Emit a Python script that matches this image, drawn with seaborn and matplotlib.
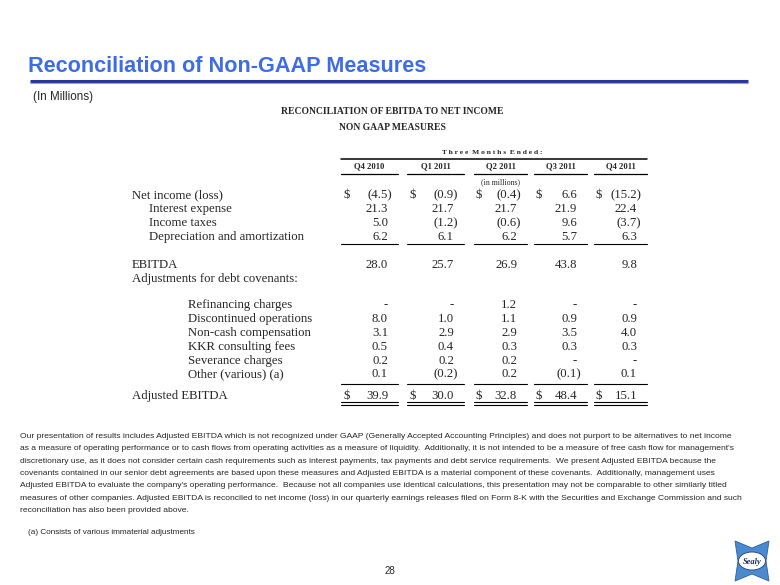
import numpy as np
import pandas as pd
import seaborn as sns
import matplotlib.pyplot as plt
from matplotlib import font_manager
from matplotlib.patches import Polygon, Ellipse

# Data: quarterly reconciliation (in millions), None = "-"
quarters = ['Q4 2010', 'Q1 2011', 'Q2 2011', 'Q3 2011', 'Q4 2011']
net_income = [-4.5, -0.9, -0.4, 6.6, -15.2]
interest_expense = [21.3, 21.7, 21.7, 21.9, 22.4]
income_taxes = [5.0, -1.2, -0.6, 9.6, -3.7]
depreciation = [6.2, 6.1, 6.2, 5.7, 6.3]
ebitda = [28.0, 25.7, 26.9, 43.8, 9.8]
refinancing = [None, None, 1.2, None, None]
discontinued = [8.0, 1.0, 1.1, 0.9, 0.9]
non_cash_comp = [3.1, 2.9, 2.9, 3.5, 4.0]
kkr_fees = [0.5, 0.4, 0.3, 0.3, 0.3]
severance = [0.2, 0.2, 0.2, None, None]
other = [0.1, -0.2, 0.2, -0.1, 0.1]
adjusted_ebitda = [39.9, 30.0, 32.8, 48.4, 15.1]

row_labels = ['Net income (loss)', 'Interest expense', 'Income taxes',
              'Depreciation and amortization', 'EBITDA',
              'Adjustments for debt covenants:', 'Refinancing charges',
              'Discontinued operations', 'Non-cash compensation',
              'KKR consulting fees', 'Severance charges', 'Other (various) (a)',
              'Adjusted EBITDA']
row_values = [net_income, interest_expense, income_taxes, depreciation, ebitda,
              None, refinancing, discontinued, non_cash_comp, kkr_fees,
              severance, other, adjusted_ebitda]

table = pd.DataFrame({'label': row_labels, 'values': row_values})
table['y'] = [194, 208, 222, 236, 264, 278, 304, 318, 332, 346, 360, 373, 395]
table['x'] = [132, 149, 149, 149, 132, 132, 188, 188, 188, 188, 188, 188, 132]
table['dollar'] = [True] + [False] * 11 + [True]

notes = ("Our presentation of results includes Adjusted EBITDA which is not recognized under GAAP (Generally Accepted Accounting Principles) and does not purport to be alternatives to net income\n"
         "as a measure of operating performance or to cash flows from operating activities as a measure of liquidity.  Additionally, it is not intended to be a measure of free cash flow for management's\n"
         "discretionary use, as it does not consider certain cash requirements such as interest payments, tax payments and debt service requirements.  We present Adjusted EBITDA because the\n"
         "covenants contained in our senior debt agreements are based upon these measures and Adjusted EBITDA is a material component of these covenants.  Additionally, management uses\n"
         "Adjusted EBITDA to evaluate the company's operating performance.  Because not all companies use identical calculations, this presentation may not be comparable to other similarly titled\n"
         "measures of other companies. Adjusted EBITDA is reconciled to net income (loss) in our quarterly earnings releases filed on Form 8-K with the Securities and Exchange Commission and such\n"
         "reconciliation has also been provided above.")


def fmt(v):
    if v is None:
        return '-'
    if v < 0:
        return '(%.1f)' % abs(v)
    return '%.1f' % v


sns.set_theme(style='white')
installed = {f.name for f in font_manager.fontManager.ttflist}
narrow = 'Liberation Sans Narrow' if 'Liberation Sans Narrow' in installed else 'Liberation Sans'
serif = 'Liberation Serif'

fig = plt.figure(figsize=(7.8, 5.85), dpi=100)
ax = fig.add_axes([0, 0, 1, 1])
ax.set_xlim(0, 780)
ax.set_ylim(585, 0)
ax.axis('off')

# Slide title and rule
ax.text(28, 67, 'Reconciliation of Non-GAAP Measures', fontsize=15.6, fontweight='bold',
        color='#3d6ce6', family='Liberation Sans', va='center')
ax.plot([30, 748], [80.5, 80.5], color='#29349c', lw=2.2, solid_capstyle='butt')
ax.plot([30, 748], [82.6, 82.6], color='#9aa0d0', lw=0.8, solid_capstyle='butt')
ax.text(33, 97, '(In Millions)', fontsize=8.4, family='Liberation Sans', va='center')

# Table titles
ax.text(392, 111, 'RECONCILIATION OF EBITDA TO NET INCOME', fontsize=6.9,
        fontweight='bold', family=serif, ha='center', va='center')
ax.text(392, 128, 'NON GAAP MEASURES', fontsize=6.9, fontweight='bold',
        family=serif, ha='center', va='center')

# Column geometry
col_left = [341, 407, 474, 534, 594]
col_right = [398, 464, 527, 587, 647]

ax.text(492, 153, 'T h r e e  M o n t h s  E n d e d :', fontsize=5.4, fontweight='bold',
        family=serif, ha='center', va='center')
ax.plot([col_left[0], col_right[-1]], [158.5, 158.5], color='black', lw=1.1)
for q, l, r in zip(quarters, col_left, col_right):
    ax.text((l + r) / 2, 166.5, q, fontsize=6.2, fontweight='bold', family=serif,
            ha='center', va='center')
    ax.plot([l, r], [173.5, 173.5], color='black', lw=0.9)
ax.text((col_left[2] + col_right[2]) / 2, 182, '(in millions)', fontsize=5.6,
        family=serif, ha='center', va='center')

# Rows (baseline aligned so parentheses don't shift the numbers)
for _, row in table.iterrows():
    yb = row['y'] + 4
    ax.text(row['x'], yb, row['label'], fontsize=9.2, family=serif, va='baseline')
    if row['values'] is None:
        continue
    for v, l, r in zip(row['values'], col_left, col_right):
        txt = fmt(v)
        xr = r - 3 if (v is None or v >= 0) else r + 1
        ax.text(xr - 7, yb, txt, fontsize=9.2, family=serif, ha='right', va='baseline')
        if row['dollar']:
            ax.text(l + 2, yb, '$', fontsize=9.2, family=serif, va='baseline')

# Underlines
for l, r in zip(col_left, col_right):
    ax.plot([l, r], [243.5, 243.5], color='black', lw=0.8)
    ax.plot([l, r], [383.5, 383.5], color='black', lw=0.8)
    ax.plot([l, r], [402, 402], color='black', lw=0.8)
    ax.plot([l, r], [404.5, 404.5], color='black', lw=0.8)

# Explanatory paragraph and footnote
ax.text(20, 433, notes, fontsize=6.1, family=narrow, va='top', linespacing=2.06)
ax.text(28, 532, '(a) Consists of various immaterial adjustments', fontsize=5.9,
        family=narrow, va='center')
ax.text(390, 571, '28', fontsize=7, family='Liberation Sans', ha='center', va='center')

# Logo
logo = Polygon([[735, 541], [752, 548], [769, 541], [766, 561], [769, 581],
                [752, 574], [735, 581], [738, 561]], closed=True,
               facecolor='#4a8ad0', edgecolor='#2d5f9a', lw=0.6)
ax.add_patch(logo)
ax.add_patch(Ellipse((752, 561), 27, 18, facecolor='white', edgecolor='#1f3f7a', lw=0.6))
ax.text(752, 561.5, 'Sealy', fontsize=6, fontstyle='italic', fontweight='bold',
        family=serif, color='#1a2a5a', ha='center', va='center')

plt.savefig('out.png', dpi=100)
